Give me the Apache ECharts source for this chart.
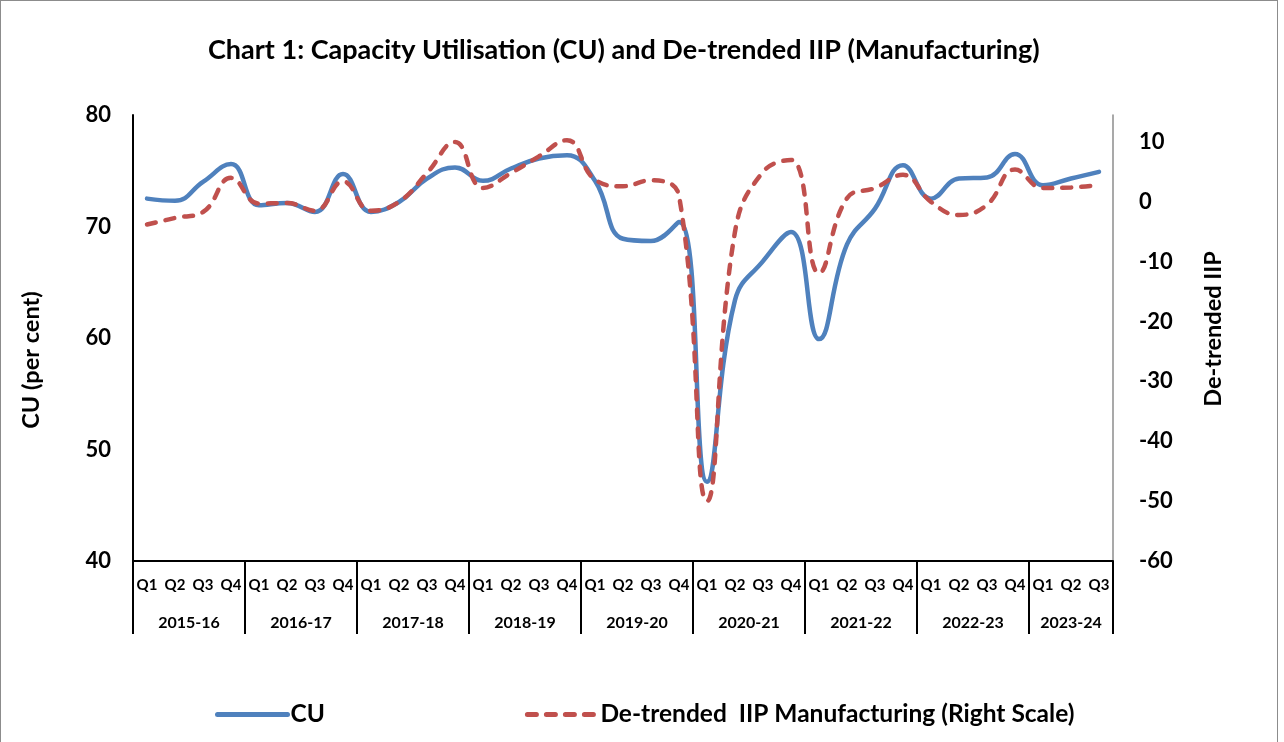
<!DOCTYPE html>
<html>
<head>
  <meta charset="utf-8">
  <title>Chart 1</title>
  <script src="https://cdn.jsdelivr.net/npm/echarts@6/dist/echarts.min.js"></script>
  <style>
    body { margin: 0; padding: 0; background: #fff; }
    .frame {
      position: absolute; left: 0; top: 0;
      width: 1276px; height: 760px;
      border: 1px solid #8c8c8c;
    }
    #main { position: absolute; left: 0; top: 0; width: 1284px; height: 742px; }
  </style>
</head>
<body>
<div class="frame"></div>
<div id="main"></div>
<script>
  // quarters 2015-16 Q1 .. 2023-24 Q3
  const years = ['2015-16', '2016-17', '2017-18', '2018-19', '2019-20',
    '2020-21', '2021-22', '2022-23', '2023-24'];
  const quarters = [];
  years.forEach(function (y, i) {
    const n = i === years.length - 1 ? 3 : 4;
    for (let q = 1; q <= n; q++) quarters.push('Q' + q);
  });

  // capacity utilisation, per cent (left scale)
  const cu = [72.5, 72.3, 74.0, 75.6, 71.9, 72.1, 71.3, 74.7, 71.3, 72.2, 74.3, 75.3,
    74.1, 75.2, 76.1, 76.4, 74.1, 68.9, 68.7, 70.4, 47.1, 63.4, 66.9, 69.5,
    59.9, 68.4, 71.6, 75.5, 72.5, 74.3, 74.4, 76.5, 73.7, 74.3, 74.9];
  // de-trended IIP manufacturing (right scale)
  const iip = [-3.8, -2.7, -1.7, 4.0, -0.3, -0.2, -1.5, 3.4, -1.5, 0.0, 4.8, 10.0,
    2.3, 4.8, 7.6, 10.3, 3.7, 2.6, 3.6, 1.0, -50.0, -5.0, 5.0, 7.0,
    -11.9, 0.6, 2.3, 4.5, 0.0, -2.2, -0.5, 5.4, 2.3, 2.4, 2.8];

  // centre of each year group, in quarter units
  const yearCentres = {};
  let start = 0;
  years.forEach(function (y, i) {
    const n = i === years.length - 1 ? 3 : 4;
    yearCentres[(start + n / 2).toFixed(1)] = y;
    start += n;
  });

  const FONT = 'Lato';
  const chart = echarts.init(document.getElementById('main'));
  chart.setOption({
    animation: false,
    textStyle: { fontFamily: FONT },
    title: {
      text: 'Chart 1: Capacity Utilisation (CU) and De-trended IIP (Manufacturing)',
      left: 203, top: 32,
      textStyle: { fontFamily: FONT, fontSize: 27, fontWeight: 'bold', color: '#000' }
    },
    legend: {
      left: 215, top: 702, padding: 0,
      itemWidth: 70, itemHeight: 14, itemGap: 200,
      itemStyle: { opacity: 0 },
      lineStyle: { width: 5 },
      textStyle: { fontFamily: FONT, fontSize: 24.5, fontWeight: 'bold', color: '#000', padding: [0, 0, 0, -2] },
      data: ['CU', 'De-trended  IIP Manufacturing (Right Scale)']
    },
    grid: { left: 133, right: 171, top: 115, bottom: 181 },
    xAxis: [{
      type: 'category',
      data: quarters,
      boundaryGap: true,
      axisLine: { onZero: false, lineStyle: { color: '#000', width: 2 } },
      axisTick: {
        show: true, length: 73,
        interval: function (i) { return i % 4 === 0; },
        lineStyle: { color: '#000', width: 2 }
      },
      axisLabel: {
        interval: 0, margin: 17,
        fontFamily: FONT, fontSize: 15, fontWeight: 'bold', color: '#000'
      }
    }, {
      type: 'value',
      position: 'bottom',
      min: 0, max: quarters.length, interval: 0.5,
      axisLine: { show: false },
      axisTick: { show: false },
      splitLine: { show: false },
      axisLabel: {
        margin: 54,
        fontFamily: FONT, fontSize: 16, fontWeight: 'bold', color: '#000',
        formatter: function (v) { return yearCentres[v.toFixed(1)] || ''; }
      }
    }],
    yAxis: [{
      type: 'value',
      min: 40, max: 80, interval: 10,
      name: 'CU (per cent)',
      nameLocation: 'middle', nameRotate: 90, nameGap: 90,
      nameTextStyle: { fontFamily: FONT, fontSize: 23.5, fontWeight: 'bold', color: '#000', padding: [0, 0, 0, -44] },
      axisLine: { show: true, lineStyle: { color: '#000', width: 2 } },
      axisTick: { show: false },
      splitLine: { show: false },
      axisLabel: { margin: 22, fontFamily: FONT, fontSize: 22, fontWeight: 'bold', color: '#000' }
    }, {
      type: 'value',
      min: -60, max: 14.5, interval: 10,
      name: 'De-trended IIP',
      nameLocation: 'middle', nameRotate: 90, nameGap: 88,
      nameTextStyle: { fontFamily: FONT, fontSize: 23.5, fontWeight: 'bold', color: '#000', padding: [0, 0, 0, 18] },
      axisLine: { show: true, lineStyle: { color: '#8c8c8c', width: 1.5 } },
      axisTick: { show: false },
      splitLine: { show: false },
      axisLabel: {
        margin: 26, showMaxLabel: false,
        fontFamily: FONT, fontSize: 22, fontWeight: 'bold', color: '#000'
      }
    }],
    series: [{
      name: 'CU',
      type: 'line',
      xAxisIndex: 0, yAxisIndex: 0,
      data: cu,
      smooth: 0.45,
      symbol: 'none',
      lineStyle: { color: '#4F81BD', width: 4.5, cap: 'round' },
      itemStyle: { color: '#4F81BD' }
    }, {
      name: 'De-trended  IIP Manufacturing (Right Scale)',
      type: 'line',
      xAxisIndex: 0, yAxisIndex: 1,
      data: iip,
      smooth: 0.45,
      symbol: 'none',
      lineStyle: { color: '#C0504D', width: 4.5, type: [9, 10], cap: 'round' },
      itemStyle: { color: '#C0504D' }
    }]
  });
  window.addEventListener('resize', function () { chart.resize(); });
</script>
</body>
</html>
